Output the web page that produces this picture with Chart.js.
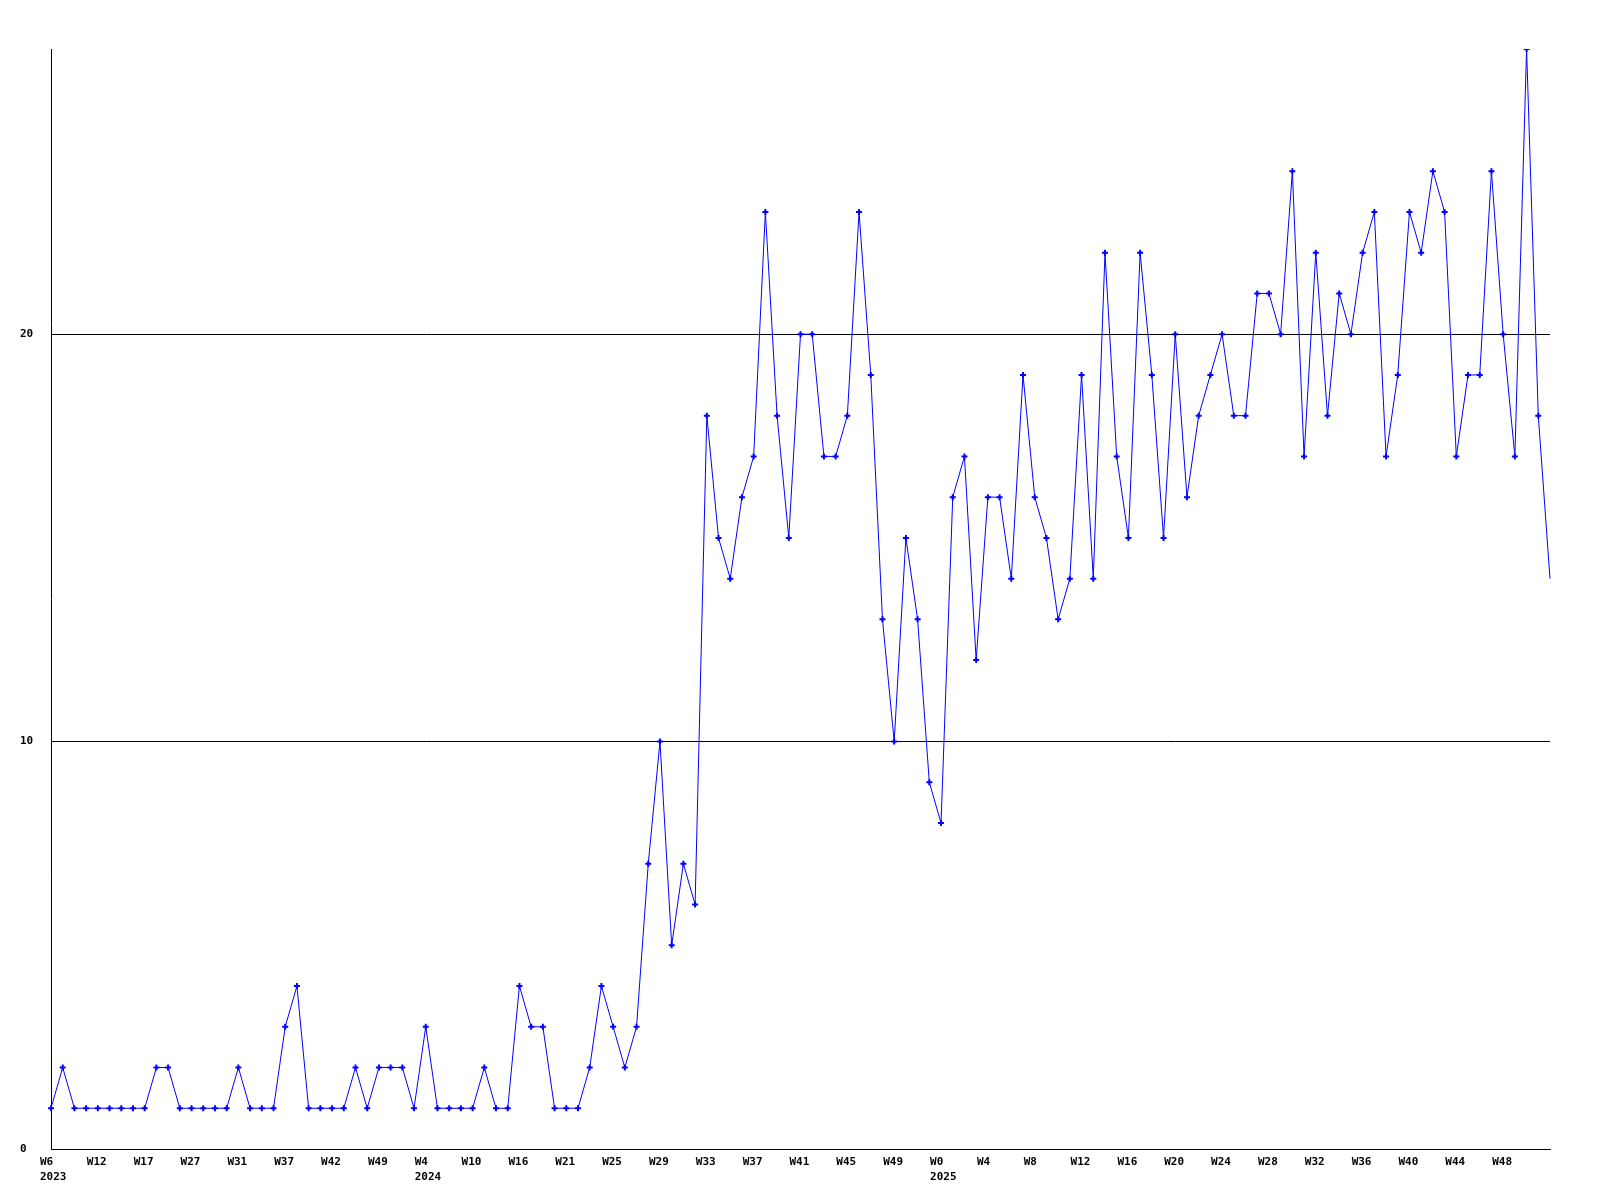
<!DOCTYPE html>
<html>
<head>
<meta charset="utf-8">
<script src="https://cdn.jsdelivr.net/npm/chart.js@4.4.1/dist/chart.umd.min.js"></script>
<style>
  html, body { margin: 0; padding: 0; background: #fff; }
  #wrap { width: 1600px; height: 1200px; }
</style>
</head>
<body>
<div id="wrap"><canvas id="myChart" width="1600" height="1200"></canvas></div>
<script>
// week numbers per year (only every 4th one gets a tick label)
const weeks2023 = [6, 7, 8, 10, 12, 13, 14, 16, 17, 19, 22, 25, 27, 28, 29, 30, 31, 32, 34, 36, 37, 38, 39, 40, 42, 43, 45, 47, 49, 50, 51, 52];
const weeks2024 = [4, 5, 7, 8, 10, 11, 13, 14, 16, 17, 18, 20, 21, 22, 23, 24, 25, 26, 27, 28, 29, 30, 31, 32, 33, 34, 35, 36, 37, 38, 39, 40, 41, 42, 43, 44, 45, 46, 47, 48, 49, 50, 51, 52];
const weeks2025 = [0, 1, 2, 3, 4, 5, 6, 7, 8, 9, 10, 11, 12, 13, 14, 15, 16, 17, 18, 19, 20, 21, 22, 23, 24, 25, 26, 27, 28, 29, 30, 31, 32, 33, 34, 35, 36, 37, 38, 39, 40, 41, 42, 43, 44, 45, 46, 47, 48, 49, 50, 51, 52];

const values2023 = [1, 2, 1, 1, 1, 1, 1, 1, 1, 2, 2, 1, 1, 1, 1, 1, 2, 1, 1, 1, 3, 4, 1, 1, 1, 1, 2, 1, 2, 2, 2, 1];
const values2024 = [3, 1, 1, 1, 1, 2, 1, 1, 4, 3, 3, 1, 1, 1, 2, 4, 3, 2, 3, 7, 10, 5, 7, 6,
                    18, 15, 14, 16, 17, 23, 18, 15, 20, 20, 17, 17, 18, 23, 19, 13, 10, 15, 13, 9];
const values2025 = [8, 16, 17, 12, 16, 16, 14, 19, 16, 15, 13, 14, 19, 14, 22, 17, 15, 22, 19, 15, 20, 16, 18, 19, 20, 18, 18,
                    21, 21, 20, 24, 17, 22, 18, 21, 20, 22, 23, 17, 19, 23, 22, 24, 23, 17, 19, 19, 24, 20, 17, 27, 18, 14];

const yTicks = [0, 10, 20];

function weekLabels(weeks, year) {
    return weeks.map((w, i) => i === 0 ? ['W' + w, String(year)] : 'W' + w);
}
const labels = [].concat(weekLabels(weeks2023, 2023), weekLabels(weeks2024, 2024), weekLabels(weeks2025, 2025));
const values = [].concat(values2023, values2024, values2025);

const ctx = document.getElementById('myChart').getContext('2d');
const tickFont = { family: 'DejaVu Sans Mono', size: 11, weight: 'bold', lineHeight: 1.35 };

new Chart(ctx, {
    type: 'line',
    data: {
        labels: labels,
        datasets: [{
            data: values,
            borderColor: '#0000ff',
            backgroundColor: '#0000ff',
            borderWidth: 1,
            pointStyle: 'cross',
            // current (last) week has no marker in the original
            pointRadius: (c) => c.dataIndex === values.length - 1 ? 0 : 3,
            pointBorderWidth: 2,
            pointHoverRadius: 3,
            tension: 0,
            fill: false
        }]
    },
    options: {
        responsive: false,
        animation: false,
        layout: { padding: { left: 20, top: 49, right: 50, bottom: 0 } },
        plugins: { legend: { display: false }, tooltip: { enabled: false } },
        scales: {
            x: {
                offset: false,
                grid: { display: false, drawTicks: false },
                border: { display: true, color: '#000', width: 1 },
                ticks: {
                    autoSkip: false,
                    maxRotation: 0,
                    minRotation: 0,
                    align: 'start',
                    labelOffset: -11,
                    padding: 6,
                    color: '#000',
                    font: tickFont,
                    // every 4th week, last point left unlabelled
                    callback: (value, index) => (index % 4 === 0 && index < labels.length - 1) ? labels[index] : null
                },
                afterFit: (scale) => { scale.height = 51; }
            },
            y: {
                min: 0,
                max: 27,
                grid: { color: '#000', lineWidth: 1, drawTicks: false },
                border: { display: true, color: '#000', width: 1 },
                afterBuildTicks: (scale) => { scale.ticks = yTicks.map(v => ({ value: v })); },
                ticks: {
                    crossAlign: 'far',
                    padding: 0,
                    color: '#000',
                    font: tickFont
                },
                afterFit: (scale) => { scale.width = 31; }
            }
        }
    }
});
</script>
</body>
</html>
